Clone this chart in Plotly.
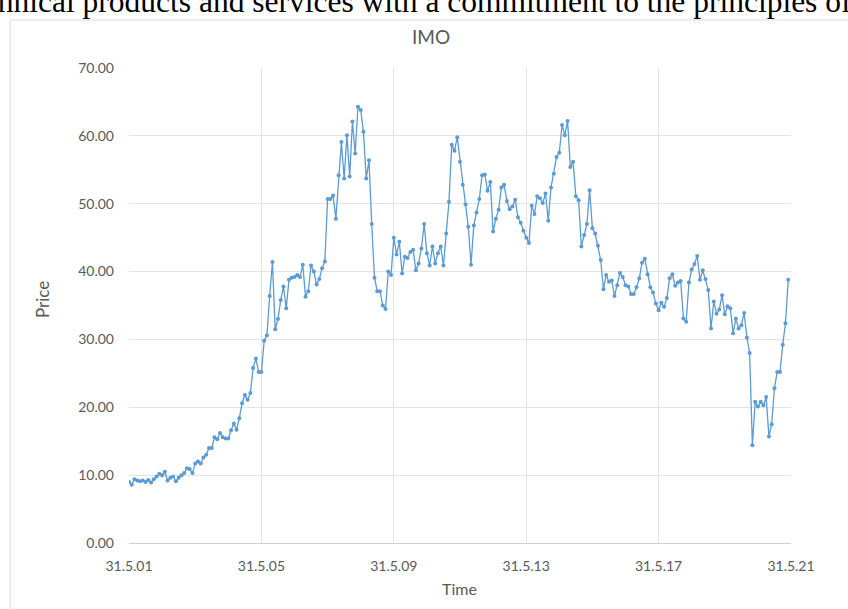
import plotly.graph_objects as go

# Monthly IMO closing price, May 2001 - April 2021
prices = [
    9.0, 8.6, 9.4, 9.2, 9.1, 9.2, 9.0, 9.3, 8.9, 9.4,
    9.8, 10.2, 10.0, 10.5, 9.2, 9.6, 9.8, 9.1, 9.6, 10.0,
    10.3, 11.0, 10.9, 10.3, 11.7, 12.0, 11.7, 12.6, 13.0, 14.0,
    14.0, 15.6, 15.3, 16.2, 15.6, 15.4, 15.4, 16.6, 17.6, 16.7,
    18.4, 20.6, 21.8, 21.1, 22.1, 25.8, 27.2, 25.2, 25.2, 29.8,
    30.6, 36.4, 41.4, 31.5, 33.0, 35.8, 37.8, 34.6, 38.8, 39.1,
    39.2, 39.5, 39.2, 41.0, 36.3, 37.1, 40.9, 40.0, 38.1, 38.9,
    40.5, 41.5, 50.7, 50.7, 51.2, 47.8, 54.2, 59.1, 53.7, 60.1,
    54.0, 62.1, 57.4, 64.3, 63.8, 60.6, 53.7, 56.4, 47.0, 39.1,
    37.1, 37.1, 35.0, 34.5, 40.0, 39.5, 45.0, 42.5, 44.4, 39.7,
    42.2, 42.0, 42.9, 43.2, 40.2, 41.2, 43.4, 47.0, 42.7, 40.9,
    43.7, 41.2, 42.7, 43.7, 40.9, 45.6, 50.3, 58.7, 57.8, 59.8,
    56.2, 52.8, 49.9, 46.6, 41.0, 46.8, 48.7, 50.7, 54.2, 54.3,
    51.9, 53.2, 45.9, 47.8, 49.1, 52.4, 52.8, 50.4, 49.2, 49.6,
    50.6, 48.0, 47.2, 46.0, 45.0, 44.2, 49.7, 48.5, 51.1, 50.8,
    50.1, 51.5, 47.5, 52.4, 54.4, 56.9, 57.5, 61.6, 60.1, 62.2,
    55.4, 56.2, 51.1, 50.5, 43.7, 45.4, 47.0, 52.0, 46.4, 45.6,
    43.8, 41.7, 37.4, 39.5, 38.5, 38.7, 36.4, 38.0, 39.8, 39.2,
    38.0, 37.8, 36.7, 36.7, 37.7, 39.0, 41.3, 41.9, 39.6, 37.7,
    36.9, 35.3, 34.3, 35.4, 34.8, 36.1, 39.0, 39.6, 37.9, 38.4,
    38.6, 33.1, 32.6, 38.4, 40.3, 41.1, 42.3, 38.8, 40.2, 38.9,
    37.3, 31.6, 35.6, 33.8, 34.4, 36.5, 33.7, 34.9, 34.6, 30.9,
    33.1, 31.6, 32.1, 33.9, 30.3, 28.0, 14.4, 20.8, 20.1, 20.8,
    20.3, 21.5, 15.7, 17.5, 22.8, 25.2, 25.2, 29.2, 32.4, 38.8,
]
months = list(range(len(prices)))

# Axis labels every four years (48 months)
tick_positions = [0, 48, 96, 144, 192, 240]
tick_labels = ["31.5.01", "31.5.05", "31.5.09", "31.5.13", "31.5.17", "31.5.21"]
price_ticks = [0, 10, 20, 30, 40, 50, 60, 70]

blue = "#5B9BD5"
grey_text = "#595959"
font_family = "Lato, 'Open Sans', sans-serif"

fig = go.Figure()
fig.add_trace(go.Scatter(
    x=months,
    y=prices,
    mode="lines+markers",
    line=dict(color=blue, width=1.3),
    marker=dict(color=blue, size=4),
    showlegend=False,
))

W, H = 848, 609
left, right, top, bottom = 129, 791.5, 68, 543
pw, ph = right - left, bottom - top

def px_x(x):
    return (x - left) / pw

def px_y(y):
    return (bottom - y) / ph

fig.update_layout(
    width=W,
    height=H,
    margin=dict(l=left, r=W - right, t=top, b=H - bottom, pad=0),
    paper_bgcolor="white",
    plot_bgcolor="white",
    font=dict(family=font_family, color=grey_text),
    xaxis=dict(
        range=[0, 240],
        tickmode="array",
        tickvals=tick_positions,
        ticktext=tick_labels,
        showgrid=True,
        gridcolor="#E3E3E3",
        gridwidth=1,
        zeroline=False,
        showline=True,
        linecolor="#D0D0D0",
        linewidth=1,
        ticks="",
        ticklabelstandoff=10,
        tickfont=dict(size=14, color=grey_text),
    ),
    yaxis=dict(
        range=[0, 70],
        tickmode="array",
        tickvals=price_ticks,
        tickformat=".2f",
        showgrid=True,
        gridcolor="#E3E3E3",
        gridwidth=1,
        zeroline=False,
        showline=False,
        ticks="",
        ticklabelstandoff=14,
        tickfont=dict(size=14, color=grey_text),
    ),
    shapes=[
        # chart frame
        dict(
            type="rect", xref="paper", yref="paper",
            x0=px_x(10), x1=px_x(855), y0=px_y(640), y1=px_y(20),
            line=dict(color="#D9D9D9", width=1),
            fillcolor="rgba(0,0,0,0)", layer="below",
        ),
    ],
    annotations=[
        dict(
            text="technical products and services with a commitment to the principles of",
            xref="paper", yref="paper",
            x=px_x(-41), y=px_y(2), xanchor="left", yanchor="middle",
            showarrow=False,
            font=dict(family="'Liberation Serif', 'Times New Roman', serif", size=31.5, color="black"),
        ),
        dict(
            text="IMO", xref="paper", yref="paper",
            x=px_x(431), y=px_y(37), xanchor="center", yanchor="middle",
            showarrow=False, font=dict(size=19, color=grey_text),
        ),
        dict(
            text="Price", xref="paper", yref="paper",
            x=px_x(42), y=px_y(300), xanchor="center", yanchor="middle",
            textangle=-90, showarrow=False, font=dict(size=17, color=grey_text),
        ),
        dict(
            text="Time", xref="paper", yref="paper",
            x=px_x(460), y=px_y(588), xanchor="center", yanchor="middle",
            showarrow=False, font=dict(size=16, color=grey_text),
        ),
    ],
)

fig.write_html("out.html")
